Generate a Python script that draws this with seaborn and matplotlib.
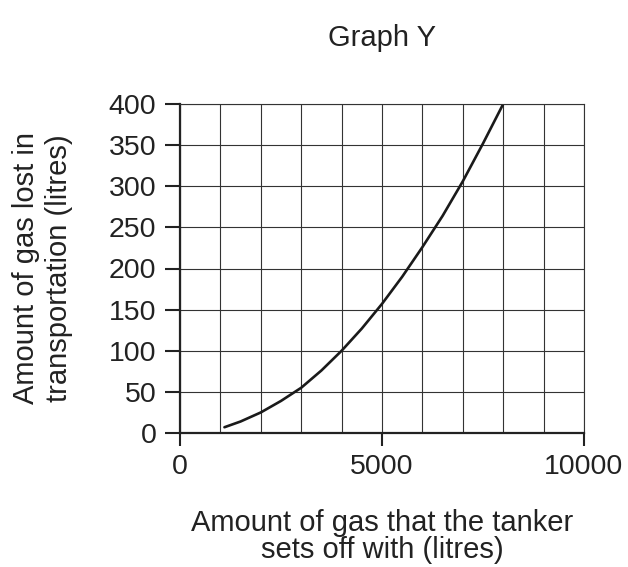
import numpy as np
import pandas as pd
import matplotlib
matplotlib.use("Agg")
import matplotlib.pyplot as plt
import seaborn as sns
from matplotlib.ticker import MultipleLocator

# Values
gas_start = [1100, 1500, 2000, 2500, 3000, 3500, 4000, 4500,
             5000, 5500, 6000, 6500, 7000, 7500, 8000]
gas_lost = [7, 14, 25, 39, 55, 76, 100, 127,
            157, 190, 226, 264, 306, 352, 400]
x_ticks = [0, 5000, 10000]
y_ticks = list(range(0, 401, 50))

df = pd.DataFrame({"start": gas_start, "lost": gas_lost})

sns.set_style("white")
plt.rcParams["font.family"] = ["Liberation Sans", "DejaVu Sans"]
plt.rcParams["text.color"] = "#222222"
plt.rcParams["axes.labelcolor"] = "#222222"
plt.rcParams["xtick.color"] = "#222222"
plt.rcParams["ytick.color"] = "#222222"

fig = plt.figure(figsize=(6.28, 5.67), dpi=100)
ax = fig.add_axes([180 / 628, 1 - 433 / 567, 404 / 628, 329 / 567])

sns.lineplot(data=df, x="start", y="lost", ax=ax, color="#1a1a1a",
             linewidth=1.9, estimator=None)

ax.set_xlim(0, 10000)
ax.set_ylim(0, 400)
ax.set_xticks(x_ticks)
ax.set_yticks(y_ticks)
ax.xaxis.set_minor_locator(MultipleLocator(1000))
ax.grid(which="both", color="#333333", linewidth=0.8)
ax.set_axisbelow(True)

for side in ["left", "bottom"]:
    ax.spines[side].set_linewidth(1.6)
    ax.spines[side].set_color("#222222")
for side in ["top", "right"]:
    ax.spines[side].set_linewidth(0.8)
    ax.spines[side].set_color("#333333")

ax.tick_params(axis="both", which="major", bottom=True, left=True,
               direction="out", width=1.5, labelsize=20.5, pad=6)
ax.tick_params(axis="x", which="major", length=9)
ax.tick_params(axis="y", which="major", length=11)
ax.tick_params(axis="x", which="minor", length=0)

ax.set_xlabel("Amount of gas that the tanker\nsets off with (litres)",
              fontsize=21, labelpad=21, linespacing=0.95)
ax.set_ylabel("Amount of gas lost in\ntransportation (litres)",
              fontsize=21, labelpad=26, linespacing=1.2)
ax.set_title("Graph Y", fontsize=21, pad=42)

fig.savefig("out.png", dpi=100)
